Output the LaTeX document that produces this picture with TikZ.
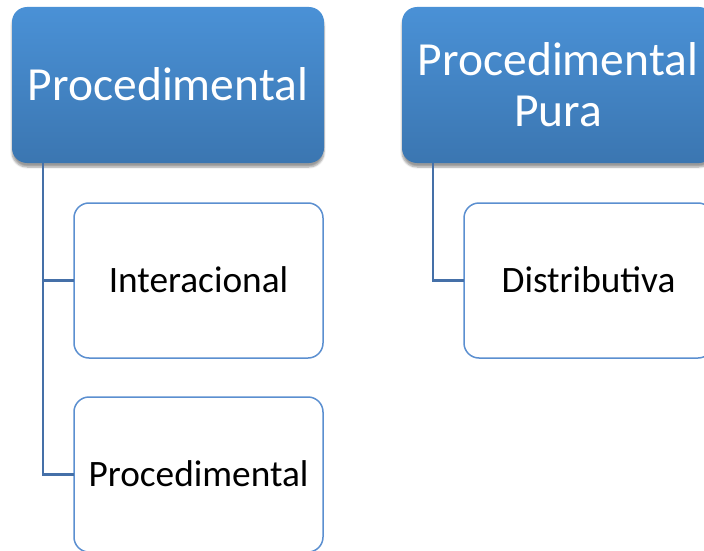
\documentclass[tikz,border=0pt]{standalone}
\usepackage{fontspec}
\setmainfont{Carlito}
\usetikzlibrary{shadows.blur}
\definecolor{headtop}{HTML}{4A91D6}
\definecolor{headbot}{HTML}{3B76B1}
\definecolor{leafline}{HTML}{5B8FD0}
\definecolor{connline}{HTML}{4570A8}
\begin{document}
\begin{tikzpicture}[x=1pt,y=-1pt,
  head/.style={rectangle, rounded corners=15pt, minimum width=312pt,
    minimum height=156pt, top color=headtop, bottom color=headbot,
    draw=none, text=white, font=\fontsize{47.5}{51}\selectfont,
    align=center, outer sep=0pt, anchor=north west,
    blur shadow={shadow xshift=0pt, shadow yshift=-4pt,
      shadow blur steps=6, shadow opacity=40}},
  leaf/.style={rectangle, rounded corners=15pt, minimum width=249pt,
    minimum height=155pt, draw=leafline, line width=1.5pt, fill=white,
    font=\fontsize{37.3}{41}\selectfont, text height=23.5pt, text depth=0pt,
    outer sep=0pt, anchor=north west},
  conn/.style={draw=connline, line width=2.2pt}]
  \path[use as bounding box, clip] (0,0) rectangle (704,551);

  % top-level categories
  \node[head, text height=30.5pt, text depth=0pt] (h1) at (12,7) {Procedimental};
  \node[head] (h2) at (402,7) {Procedimental\\Pura};

  % sub-items
  \node[leaf] (c1) at (74,203) {Interacional};
  \node[leaf] (c2) at (74,397) {Procedimental};
  \node[leaf] (c3) at (464,203) {Distributiva};

  % tree connectors
  \draw[conn] ([xshift=31pt]h1.south west) |- (c1.west);
  \draw[conn] ([xshift=31pt]h1.south west) |- (c2.west);
  \draw[conn] ([xshift=31pt]h2.south west) |- (c3.west);
\end{tikzpicture}
\end{document}
